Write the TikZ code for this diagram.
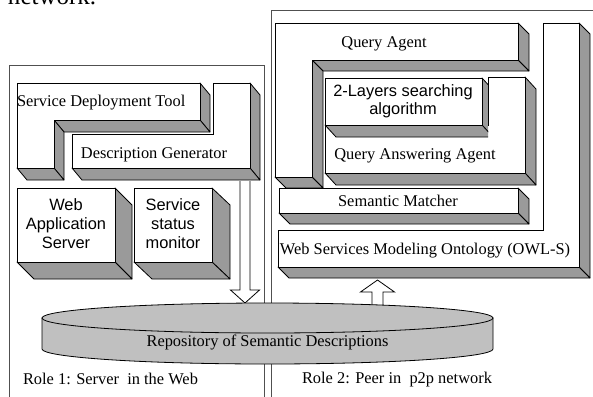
\documentclass[tikz,border=0pt]{standalone}
\usepackage{fontspec}
\setmainfont{Liberation Serif}
\newfontfamily\arialf{Liberation Sans}
\usetikzlibrary{calc}
\definecolor{shadegray}{RGB}{154,154,154}
\definecolor{cylgray}{RGB}{192,192,192}
\definecolor{framegray}{RGB}{80,80,80}

% one shaded side face of an extruded block: edge (#1)-(#2), depth vector (#3)
\newcommand\sideface[3]{\filldraw[sideface] (#1) -- (#2) -- ($(#2)+(#3)$) -- ($(#1)+(#3)$) -- cycle;}

\begin{document}
\begin{tikzpicture}[x=1pt,y=-1pt,
  every node/.style={inner sep=0pt, outer sep=0pt},
  serif/.style={font=\fontsize{16.4}{19}\selectfont},
  sans/.style={font=\arialf\fontsize{16.4}{19}\selectfont, align=center},
  sideface/.style={fill=shadegray, draw=black, line width=0.8pt, line join=round},
  frontface/.style={fill=white, draw=black, line width=0.8pt},
  panel/.style={draw=framegray, line width=0.8pt},
  blockarrow/.style={fill=white, draw=black, line width=0.8pt},
  drum/.style={fill=cylgray, draw=black, line width=0.8pt}]

\useasboundingbox (0,0) rectangle (593,396);
\fill[white] (0,0) rectangle (593,396);

% tail of the running text above the figure
\node[anchor=base west, font=\fontsize{25}{30}\selectfont] (runon) at (8,5) {network.};

% the two role panels
\draw[panel] (9,400) -- (9,65) -- (264,65) -- (264,400);
\draw[panel] (271,400) -- (271,10) -- (600,10);

% ---------- Role 1 ----------
% Service Deployment Tool (L-shaped block)
\sideface{200,83}{200,120}{10,12}
\sideface{200,120}{54,120}{10,12}
\sideface{54,120}{54,168}{10,12}
\sideface{54,168}{17,168}{10,12}
\draw[frontface] (17,83) -- (200,83) -- (200,120) -- (54,120) -- (54,168) -- (17,168) -- cycle;
\node[serif, anchor=base west] (sdt) at (17,106) {Service Deployment Tool};

% Description Generator (inverted L)
\sideface{250,83}{250,168}{10,12}
\sideface{250,168}{72,168}{10,12}
\draw[frontface] (72,134) -- (213,134) -- (213,83) -- (250,83) -- (250,168) -- (72,168) -- cycle;
\node[serif, anchor=base] (dg) at (154,158) {Description Generator};

% Web Application Server
\sideface{115,188}{115,262}{17,17}
\sideface{115,262}{17,262}{17,17}
\draw[frontface] (17,188) rectangle (115,262);
\node[sans] (was) at (66,223.5) {Web\\Application\\Server};

% Service status monitor
\sideface{212,188}{212,262}{18,17}
\sideface{212,262}{134,262}{18,17}
\draw[frontface] (134,188) rectangle (212,262);
\node[sans] (ssm) at (173,223.5) {Service\\status\\monitor};

% ---------- Role 2 ----------
% Query Agent (L-shaped block)
\sideface{518,23}{518,60}{11,11}
\sideface{518,60}{312,60}{11,11}
\sideface{312,60}{312,177}{11,11}
\sideface{312,177}{275,177}{11,11}
\draw[frontface] (275,23) -- (518,23) -- (518,60) -- (312,60) -- (312,177) -- (275,177) -- cycle;
\node[serif, anchor=base] (qa) at (384,48) {Query Agent};

% Query Answering Agent (inverted L)
\sideface{525,77}{525,173}{11,12}
\sideface{525,173}{325,173}{11,12}
\draw[frontface] (325,125) -- (488,125) -- (488,77) -- (525,77) -- (525,173) -- (325,173) -- cycle;
\node[serif, anchor=base] (qaa) at (415,159.3) {Query Answering Agent};

% 2-Layers searching algorithm, seated in the notch
\begin{scope}
  \clip (0,0) rectangle (488,396);
  \sideface{482,78}{482,125}{11,12}
  \sideface{482,125}{325,125}{11,12}
  \draw[frontface] (325,78) rectangle (482,125);
\end{scope}
\draw[line width=0.8pt] (488,77) -- (488,126);
\node[sans, font=\arialf\fontsize{16.4}{18}\selectfont] (tls) at (403,100.8) {2-Layers searching\\algorithm};

% Semantic Matcher
\sideface{518,188}{518,213}{11,11}
\sideface{518,213}{279,213}{11,11}
\draw[frontface] (279,188) rectangle (518,213);
\node[serif, anchor=base] (sm) at (398,206) {Semantic Matcher};

% Web Services Modeling Ontology (L-shaped frame)
\sideface{579,23}{579,267}{11,11}
\sideface{579,267}{278,267}{11,11}
\draw[frontface] (278,230) -- (543,230) -- (543,23) -- (579,23) -- (579,267) -- (278,267) -- cycle;
\node[serif, anchor=base] (wsmo) at (425,254) {Web Services Modeling Ontology (OWL-S)};

% ---------- block arrows ----------
\coordinate (dgfoot) at (245,181);
\coordinate (repotop) at (245,303);
\draw[blockarrow] ($(dgfoot)+(-5,0)$) -- ($(repotop)+(-5,-13)$) -- ($(repotop)+(-14.5,-13)$)
  -- (repotop) -- ($(repotop)+(14.5,-13)$) -- ($(repotop)+(5,-13)$) -- ($(dgfoot)+(5,0)$);

\coordinate (repoup) at (377.5,306);
\coordinate (wsmofoot) at (377.5,280);
\draw[blockarrow] ($(repoup)+(-5.5,0)$) -- ($(wsmofoot)+(-5.5,12)$) -- ($(wsmofoot)+(-17,12)$)
  -- (wsmofoot) -- ($(wsmofoot)+(17,12)$) -- ($(wsmofoot)+(5.5,12)$) -- ($(repoup)+(5.5,0)$);

% ---------- shared repository (flat cylinder) ----------
\filldraw[drum] (42,318) -- (42,349) .. controls (42,357.28) and (143,364) .. (267.5,364)
  .. controls (392,364) and (493,357.28) .. (493,349) -- (493,318) -- cycle;
\filldraw[drum] (267.5,318) ellipse [x radius=225.5, y radius=15];
\node[serif, anchor=base] (repo) at (267.5,346.7) {Repository of Semantic Descriptions};

% role captions
\node[serif, anchor=base west] (role1) at (23,384) {Role 1: Server\ \ in the Web};
\node[serif, anchor=base west] (role2) at (302,383.5) {Role 2: Peer in\ \ p2p network};
\end{tikzpicture}
\end{document}
